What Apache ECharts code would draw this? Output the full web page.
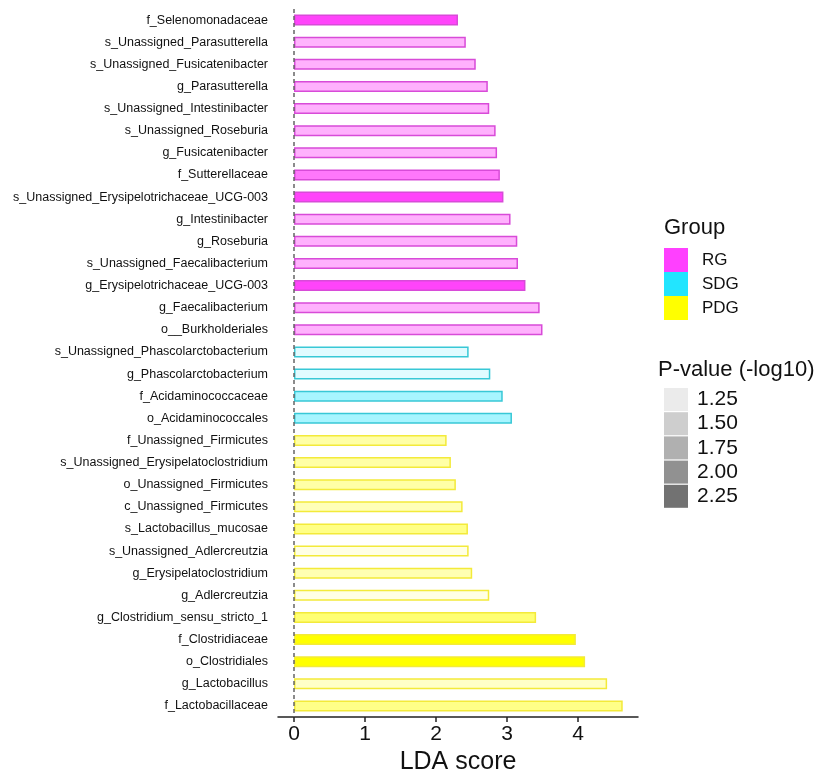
<!DOCTYPE html>
<html>
<head>
<meta charset="utf-8">
<script src="https://cdn.jsdelivr.net/npm/echarts@6/dist/echarts.min.js"></script>
<style>
html,body{margin:0;padding:0;background:#fff;}
#chart{width:838px;height:775px;}
</style>
</head>
<body>
<div id="chart"></div>
<script>
// ---- data ----
const categories = [
  'f_Selenomonadaceae','s_Unassigned_Parasutterella','s_Unassigned_Fusicatenibacter','g_Parasutterella',
  's_Unassigned_Intestinibacter','s_Unassigned_Roseburia','g_Fusicatenibacter','f_Sutterellaceae',
  's_Unassigned_Erysipelotrichaceae_UCG-003','g_Intestinibacter','g_Roseburia','s_Unassigned_Faecalibacterium',
  'g_Erysipelotrichaceae_UCG-003','g_Faecalibacterium','o__Burkholderiales',
  's_Unassigned_Phascolarctobacterium','g_Phascolarctobacterium','f_Acidaminococcaceae','o_Acidaminococcales',
  'f_Unassigned_Firmicutes','s_Unassigned_Erysipelatoclostridium','o_Unassigned_Firmicutes','c_Unassigned_Firmicutes',
  's_Lactobacillus_mucosae','s_Unassigned_Adlercreutzia','g_Erysipelatoclostridium','g_Adlercreutzia',
  'g_Clostridium_sensu_stricto_1','f_Clostridiaceae','o_Clostridiales','g_Lactobacillus','f_Lactobacillaceae'
];
const ldaScores = [
  2.31, 2.42, 2.56, 2.73, 2.75, 2.84, 2.86, 2.90, 2.95, 3.05, 3.145, 3.155, 3.26, 3.46, 3.50,
  2.46, 2.765, 2.94, 3.07,
  2.15, 2.21, 2.28, 2.375, 2.45, 2.46, 2.51, 2.75, 3.41, 3.97, 4.10, 4.41, 4.63
];
const groups = [
  'RG','RG','RG','RG','RG','RG','RG','RG','RG','RG','RG','RG','RG','RG','RG',
  'SDG','SDG','SDG','SDG',
  'PDG','PDG','PDG','PDG','PDG','PDG','PDG','PDG','PDG','PDG','PDG','PDG','PDG'
];
const pValues = [
  2.35, 1.58, 1.6, 1.6, 1.6, 1.6, 1.6, 2.0, 2.35, 1.6, 1.6, 1.6, 2.35, 1.6, 1.6,
  1.25, 1.25, 1.6, 1.6,
  1.53, 1.53, 1.53, 1.44, 1.7, 1.2, 1.47, 1.2, 1.8, 2.4, 2.4, 1.36, 1.69
];
const groupNames = ['RG','SDG','PDG'];
const pLegendLabels = ['1.25','1.50','1.75','2.00','2.25'];
const pLegendColors = ['#ebebeb','#cecece','#b0b0b0','#919191','#727272'];

// ---- styling ----
const baseRGB = {RG:[255,61,250], SDG:[34,229,255], PDG:[255,255,0]};
const borderCol = {RG:'#d84bd8', SDG:'#38c8d6', PDG:'#f3ea3a'};
const legendCol = {RG:'#ff40ff', SDG:'#22e5ff', PDG:'#ffff00'};
function alphaOf(p){
  let a = 0.1 + 0.9*(p-1.2)/1.2;
  return Math.max(0.08, Math.min(1, a));
}
const FONT = "'Liberation Sans', Arial, Helvetica, sans-serif";

const series = groupNames.map((g, gi) => ({
  name: g,
  type: 'bar',
  stack: 'all',
  barWidth: 11,
  itemStyle: {color: legendCol[g], borderColor: borderCol[g], borderWidth: 1.5},
  data: categories.map((c, i) => {
    if (groups[i] !== g) return '-';
    const rgb = baseRGB[g];
    return {
      value: ldaScores[i],
      itemStyle: {
        color: 'rgba(' + rgb.join(',') + ',' + alphaOf(pValues[i]).toFixed(3) + ')',
        borderColor: borderCol[g]
      }
    };
  }),
  markLine: gi === 0 ? {
    silent: true, symbol: 'none', animation: false,
    label: {show: false},
    lineStyle: {type: [4, 3], color: '#666', width: 1.5},
    data: [{xAxis: 0}]
  } : undefined
}));
pLegendLabels.forEach((lab, i) => {
  series.push({name: lab, type: 'bar', stack: 'all', data: [], itemStyle: {color: pLegendColors[i]}});
});

const chart = echarts.init(document.getElementById('chart'), null, {renderer: 'canvas'});
chart.setOption({
  animation: false,
  backgroundColor: '#fff',
  textStyle: {fontFamily: FONT},
  grid: {left: 278, right: 200, top: 9, bottom: 58, containLabel: false, outerBoundsMode: 'none'},
  xAxis: {
    type: 'value', min: -0.225, max: 4.845,
    name: 'LDA score', nameLocation: 'middle', nameGap: 30,
    nameTextStyle: {fontSize: 25, color: '#111', fontFamily: FONT},
    axisLine: {show: true, lineStyle: {color: '#222', width: 1.5}},
    axisTick: {show: true, length: 5, lineStyle: {color: '#222', width: 1.5}, customValues: [0,1,2,3,4]},
    axisLabel: {fontSize: 21, color: '#111', margin: 7, customValues: [0,1,2,3,4], fontFamily: FONT},
    splitLine: {show: false}
  },
  yAxis: {
    type: 'category', inverse: true, data: categories,
    axisLine: {show: false}, axisTick: {show: false},
    axisLabel: {fontSize: 12.5, color: '#111', margin: 10, fontFamily: FONT},
    splitLine: {show: false}
  },
  legend: [
    {
      data: groupNames, orient: 'vertical', left: 659, top: 243,
      icon: 'rect', itemWidth: 24, itemHeight: 24, itemGap: 0,
      selectedMode: false,
      itemStyle: {borderWidth: 0},
      textStyle: {fontSize: 17, color: '#111', padding: [0,0,0,9], fontFamily: FONT}
    },
    {
      data: pLegendLabels, orient: 'vertical', left: 659, top: 383,
      icon: 'rect', itemWidth: 24, itemHeight: 23, itemGap: 1.2,
      selectedMode: false,
      itemStyle: {borderWidth: 0},
      textStyle: {fontSize: 21, color: '#111', padding: [0,0,0,4], fontFamily: FONT}
    }
  ],
  graphic: [
    {type: 'text', left: 664, top: 217, style: {text: 'Group', fontSize: 22, fill: '#111', fontFamily: FONT}},
    {type: 'text', left: 658, top: 359, style: {text: 'P-value (-log10)', fontSize: 22, fill: '#111', fontFamily: FONT}}
  ],
  series: series
});
</script>
</body>
</html>
